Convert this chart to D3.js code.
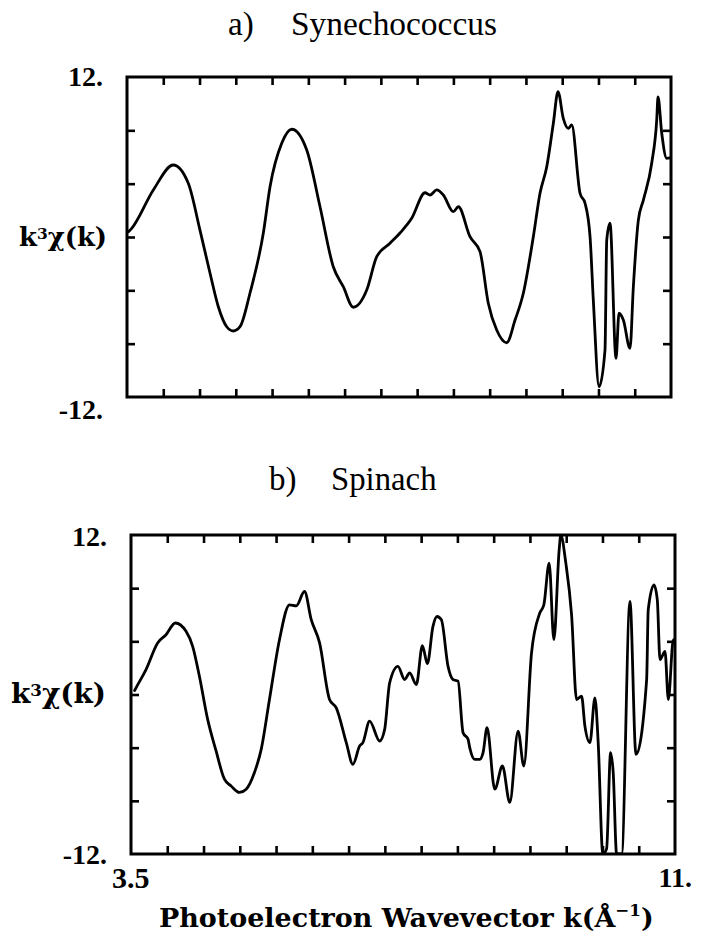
<!DOCTYPE html>
<html><head><meta charset="utf-8">
<script src="https://cdn.jsdelivr.net/npm/d3@7"></script>
<style>body{margin:0;background:#fff} svg{display:block}</style>
</head><body><svg id="c" width="701" height="945"></svg>
<script>
// ---- data ----
const kA = [3.52,3.565,3.863,4.138,4.345,4.506,4.644,4.759,4.875,4.966,5.058,5.196,5.379,5.472,5.633,5.771,5.978,6.161,6.344,6.482,6.62,6.805,6.943,7.126,7.264,7.425,7.609,7.678,7.77,7.861,7.999,8.068,8.229,8.367,8.481,8.597,8.735,8.85,8.964,9.102,9.194,9.287,9.378,9.442,9.515,9.584,9.631,9.746,9.815,9.884,9.929,10.008,10.09,10.114,10.159,10.242,10.283,10.343,10.435,10.481,10.55,10.619,10.734,10.803,10.821,10.872,10.941,10.99];
const chiA = [0.4,0.65,3.53,5.4,4.03,0.52,-2.7,-5.23,-6.73,-7.05,-6.73,-4.2,0.28,3.77,7.03,8.08,6.52,2.27,-2.23,-3.73,-5.27,-3.98,-1.48,-0.47,0.3,1.4,3.32,3.15,3.53,3.15,1.9,2.27,0.02,-1.1,-4.97,-6.98,-7.93,-6.23,-4.22,0.02,3.28,5.27,8.53,10.9,8.9,8.15,8.4,3.28,2.53,0.02,-4.73,-11.23,-8.48,-0.23,1.03,-9.1,-5.72,-6.23,-8.35,-3.73,1.27,2.77,5.53,8.77,10.5,7.8,5.9,5.93];
const kB = [3.55,3.569,3.707,3.867,3.983,4.112,4.259,4.35,4.443,4.557,4.673,4.788,4.88,4.995,5.088,5.202,5.295,5.409,5.547,5.685,5.778,5.892,5.985,6.1,6.237,6.33,6.468,6.559,6.652,6.697,6.79,6.928,6.997,7.066,7.18,7.273,7.342,7.434,7.517,7.586,7.663,7.719,7.779,7.871,7.94,8.009,8.078,8.147,8.17,8.239,8.308,8.354,8.409,8.515,8.621,8.722,8.837,8.916,9.022,9.136,9.192,9.265,9.33,9.403,9.426,9.495,9.574,9.643,9.712,9.758,9.827,9.896,9.941,10.005,10.057,10.112,10.148,10.195,10.264,10.379,10.462,10.609,10.631,10.71,10.756,10.793,10.862,10.908,10.977,11.0];
const chiB = [0.3,0.5,1.875,3.88,4.5,5.38,4.75,3.62,1.37,-1.875,-4.25,-6.375,-6.88,-7.37,-7.125,-5.87,-4.125,-0.375,4.125,6.75,6.675,7.75,5.625,3.88,-0.375,-1.0,-3.62,-5.25,-3.88,-3.62,-2.0,-3.5,-2.625,0.88,2.12,1.125,1.63,0.75,3.675,2.325,5.12,5.87,5.625,2.12,1.125,1.0,-2.87,-3.375,-4.0,-4.875,-4.875,-4.37,-2.5,-7.125,-5.38,-8.12,-2.75,-5.38,3.13,6.13,6.75,9.88,4.125,10.875,12,9.88,6.0,-0.375,-0.13,-2.38,-3.62,-0.25,-3.62,-12,-11.6,-4.37,-5.87,-12,-12,7.0,-4.5,1.125,6.375,8.25,7.125,2.625,3.25,-0.375,4.125,3.9];
const xTickValues = [4,4.5,5,5.5,6,6.5,7,7.5,8,8.5,9,9.5,10,10.5];
const yTickValues = [-8,-4,0,4,8];
const xDomain = [3.5, 11];
const yDomain = [-12, 12];
const panelLetters = ["a)", "b)"];
const panelNames = ["Synechococcus", "Spinach"];
const yEndLabels = ["12.", "-12."];
const xEndLabels = ["3.5", "11."];
const xAxisTitle = "Photoelectron Wavevector k(Å";

// ---- layout ----
const svg = d3.select("#c");
const panels = [
  {k:kA, v:chiA, L:127, R:671, T:77, B:397, titleY:35, letterX:228, nameX:291, nameW:206,
   y12:86, ym12:419, yLabY:246, yLabX:19, yLabW:88, showX:false},
  {k:kB, v:chiB, L:131, R:675, T:535, B:854, titleY:490, letterX:269, nameX:331, nameW:106,
   y12:546, ym12:864, yLabY:703, yLabX:11, yLabW:95, showX:true}
];
const serif = "'Liberation Serif','Times New Roman',serif";
const wide = "'DejaVu Serif',serif";

function fitWidth(sel, target) {
  const w = sel.node().getBBox().width;
  const fs = parseFloat(sel.attr("font-size"));
  sel.attr("font-size", (fs * target / w).toFixed(2));
}

panels.forEach((p, i) => {
  const x = d3.scaleLinear().domain(xDomain).range([p.L, p.R]);
  const y = d3.scaleLinear().domain(yDomain).range([p.B, p.T]);
  const g = svg.append("g");

  // title
  g.append("text").attr("x", p.letterX).attr("y", p.titleY)
    .attr("font-family", serif).attr("font-size", 33).text(panelLetters[i]);
  const nm = g.append("text").attr("x", p.nameX).attr("y", p.titleY)
    .attr("font-family", serif).attr("font-size", 33).text(panelNames[i]);
  fitWidth(nm, p.nameW);

  // clip
  const cid = "clip" + i;
  svg.append("clipPath").attr("id", cid).append("rect")
    .attr("x", p.L).attr("y", p.T).attr("width", p.R - p.L).attr("height", p.B - p.T);

  // axes with inward ticks
  const mk = (ax, tx) => {
    const a = g.append("g").attr("transform", tx).call(ax);
    a.select(".domain").remove();
    a.selectAll("text").remove();
    a.selectAll("line").attr("stroke", "#000").attr("stroke-width", 2.6);
  };
  mk(d3.axisBottom(x).tickValues(xTickValues).tickSize(-8).tickFormat(""), `translate(0,${p.B})`);
  mk(d3.axisTop(x).tickValues(xTickValues).tickSize(-8).tickFormat(""), `translate(0,${p.T})`);
  mk(d3.axisLeft(y).tickValues(yTickValues).tickSize(-8).tickFormat(""), `translate(${p.L},0)`);
  mk(d3.axisRight(y).tickValues(yTickValues).tickSize(-8).tickFormat(""), `translate(${p.R},0)`);

  // frame
  g.append("rect").attr("x", p.L).attr("y", p.T).attr("width", p.R - p.L).attr("height", p.B - p.T)
    .attr("fill", "none").attr("stroke", "#000").attr("stroke-width", 3);

  // curve
  const pts = p.k.map((kk, j) => [kk, p.v[j]]);
  g.append("path").attr("clip-path", `url(#${cid})`)
    .attr("d", d3.line().x(d => x(d[0])).y(d => y(d[1])).curve(d3.curveMonotoneX)(pts))
    .attr("fill", "none").attr("stroke", "#000").attr("stroke-width", 2.8)
    .attr("stroke-linejoin", "round").attr("stroke-linecap", "round");

  // y end labels
  g.append("text").attr("x", p.L - 24).attr("y", p.y12).attr("text-anchor", "end")
    .attr("font-family", serif).attr("font-size", 28).attr("font-weight", "bold").text(yEndLabels[0]);
  g.append("text").attr("x", p.L - 24).attr("y", p.ym12).attr("text-anchor", "end")
    .attr("font-family", serif).attr("font-size", 28).attr("font-weight", "bold").text(yEndLabels[1]);

  // y axis label k^3 chi(k)
  const yl = g.append("text").attr("x", p.yLabX).attr("y", p.yLabY)
    .attr("font-family", wide).attr("font-size", 26).attr("font-weight", "bold");
  yl.append("tspan").text("k");
  yl.append("tspan").attr("font-size", "0.6em").attr("dy", "-0.42em").text("3");
  yl.append("tspan").attr("dy", "0.25em").text("χ(k)");
  fitWidth(yl, p.yLabW);

  if (p.showX) {
    g.append("text").attr("x", p.L - 19).attr("y", 888)
      .attr("font-family", serif).attr("font-size", 30).attr("font-weight", "bold").text(xEndLabels[0]);
    g.append("text").attr("x", p.R + 17).attr("y", 887).attr("text-anchor", "end")
      .attr("font-family", serif).attr("font-size", 28).attr("font-weight", "bold").text(xEndLabels[1]);
    const xt = g.append("text").attr("x", 159).attr("y", 927)
      .attr("font-family", wide).attr("font-size", 26).attr("font-weight", "bold");
    xt.append("tspan").text(xAxisTitle);
    xt.append("tspan").attr("font-size", "0.62em").attr("dy", "-0.65em").text("−1");
    xt.append("tspan").attr("dy", "0.4em").text(")");
    fitWidth(xt, 495);
  }
});
</script></body></html>
